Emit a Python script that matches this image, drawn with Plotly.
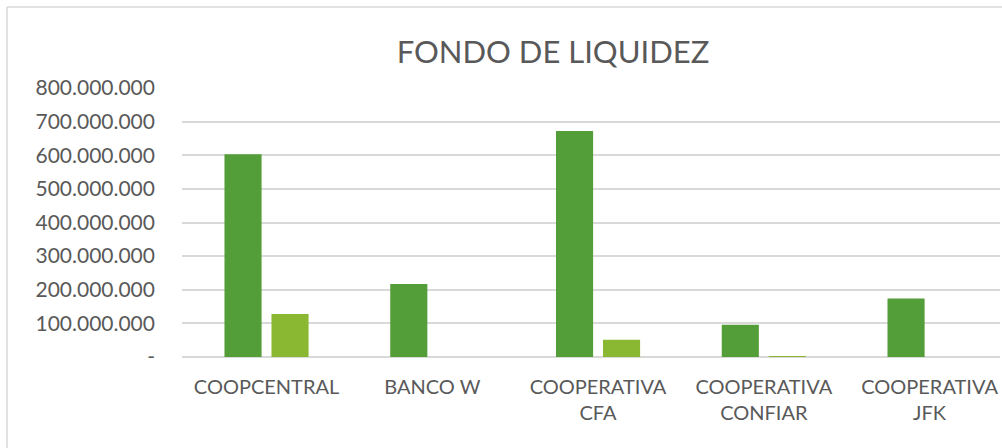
import plotly.graph_objects as go

categories = ["COOPCENTRAL", "BANCO W", "COOPERATIVA<br>CFA", "COOPERATIVA<br>CONFIAR", "COOPERATIVA<br>JFK"]
serie_1 = [603_000_000, 217_000_000, 672_000_000, 96_000_000, 174_000_000]
serie_2 = [128_000_000, 0, 51_000_000, 1_500_000, 0]
tick_vals = [0, 100_000_000, 200_000_000, 300_000_000, 400_000_000,
             500_000_000, 600_000_000, 700_000_000, 800_000_000]
tick_text = ["-", "100.000.000", "200.000.000", "300.000.000", "400.000.000",
             "500.000.000", "600.000.000", "700.000.000", "800.000.000"]

W, H = 1002, 448
FONT = "Lato"
TXT = "#595959"

fig = go.Figure()
fig.add_trace(go.Bar(x=categories, y=serie_1, name="Serie 1",
                     marker=dict(color="#549E39", line=dict(width=0))))
fig.add_trace(go.Bar(x=categories, y=serie_2, name="Serie 2",
                     marker=dict(color="#8AB833", line=dict(width=0))))

L, R, T, B = 182, 2, 88, 91
fig.update_layout(
    width=W, height=H,
    margin=dict(l=L, r=R, t=T, b=B, autoexpand=False),
    paper_bgcolor="white", plot_bgcolor="white",
    showlegend=False,
    barmode="group", bargap=0.433, bargroupgap=0.21,
    font=dict(family=FONT, color=TXT, size=20),
    title=dict(text="FONDO DE LIQUIDEZ", x=553 / W, xanchor="center",
               y=1 - 52 / H, yanchor="middle",
               font=dict(family=FONT, size=31, color=TXT)),
    xaxis=dict(range=[-0.51, 4.425], showgrid=False, showline=False, ticks="",
               automargin=False,
               tickfont=dict(family=FONT, size=20, color=TXT), ticklabelstandoff=16),
    yaxis=dict(range=[0, 800_000_000], tickvals=tick_vals, ticktext=tick_text,
               automargin=False,
               showgrid=True, gridcolor="#D9D9D9", gridwidth=1.5,
               zeroline=True, zerolinecolor="#D9D9D9", zerolinewidth=1.5,
               showline=False, ticks="",
               tickfont=dict(family=FONT, size=21, color=TXT), ticklabelstandoff=26),
    shapes=[
        dict(type="line", xref="paper", yref="paper",
             x0=(7 - L) / (W - L - R), x1=(7 - L) / (W - L - R),
             y0=1 + (T - 7) / (H - T - B), y1=-B / (H - T - B) - 0.1,
             line=dict(color="#D9D9D9", width=1.5)),
        dict(type="line", xref="paper", yref="paper",
             x0=(7 - L) / (W - L - R), x1=1.1,
             y0=1 + (T - 7) / (H - T - B), y1=1 + (T - 7) / (H - T - B),
             line=dict(color="#D9D9D9", width=1.5)),
    ],
)

fig.write_html("out.html", config={"displayModeBar": False},
               post_script="document.body.style.margin='0';document.body.style.overflow='hidden';")
